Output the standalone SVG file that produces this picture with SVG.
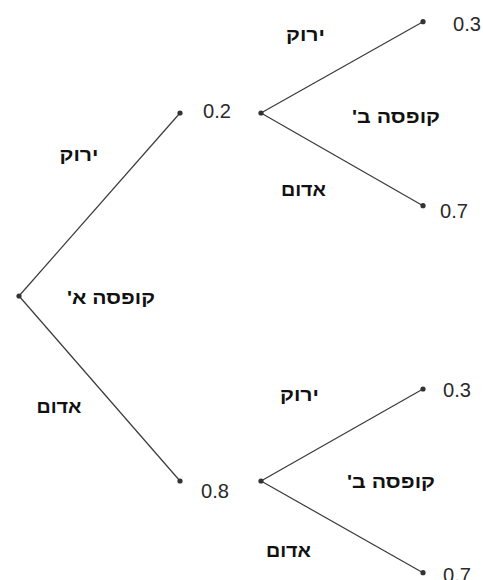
<svg xmlns="http://www.w3.org/2000/svg" width="483" height="580" viewBox="0 0 483 580">
<style>
.edge{stroke:#3a3a3a;stroke-width:1.2;fill:none}
.dot{fill:#333}
.num{font-family:"Liberation Sans",Arial,sans-serif;font-size:21px;fill:#2a2a2a}
.heb{font-family:"Liberation Sans",Arial,sans-serif;font-size:18.5px;font-weight:bold;fill:#111;text-anchor:middle;direction:rtl}
</style>
<rect width="483" height="580" fill="#fff"/>
<g id="connectors">
<line class="edge" x1="19" y1="296" x2="180" y2="113"/>
<line class="edge" x1="19" y1="296" x2="180" y2="481"/>
<line class="edge" x1="261" y1="113" x2="423" y2="21.7"/>
<line class="edge" x1="261" y1="113" x2="423" y2="205.7"/>
<line class="edge" x1="261" y1="481" x2="423" y2="389"/>
<line class="edge" x1="261" y1="481" x2="423" y2="572.7"/>
</g>
<g id="edge-labels">
<text class="heb" x="79" y="161" textLength="39" lengthAdjust="spacingAndGlyphs">ירוק</text>
<text class="heb" x="111" y="304" textLength="88" lengthAdjust="spacingAndGlyphs">קופסה א'</text>
<text class="heb" x="59" y="413" textLength="45" lengthAdjust="spacingAndGlyphs">אדום</text>
<text class="heb" x="305.5" y="41" textLength="39" lengthAdjust="spacingAndGlyphs">ירוק</text>
<text class="heb" x="396" y="123" textLength="88" lengthAdjust="spacingAndGlyphs">קופסה ב'</text>
<text class="heb" x="303.5" y="196" textLength="45" lengthAdjust="spacingAndGlyphs">אדום</text>
<text class="heb" x="299.5" y="401" textLength="39" lengthAdjust="spacingAndGlyphs">ירוק</text>
<text class="heb" x="391" y="488" textLength="88" lengthAdjust="spacingAndGlyphs">קופסה ב'</text>
<text class="heb" x="288.5" y="557" textLength="45" lengthAdjust="spacingAndGlyphs">אדום</text>
</g>
<g id="root"><circle class="dot" cx="19" cy="296" r="2.6"/></g>
<g id="a-green"><circle class="dot" cx="180" cy="113" r="2.6"/><text class="num" x="203" y="118" textLength="28" lengthAdjust="spacingAndGlyphs">0.2</text></g>
<g id="b-start-top"><circle class="dot" cx="261" cy="113" r="2.6"/></g>
<g id="top-green"><circle class="dot" cx="423" cy="21.7" r="2.6"/><text class="num" x="453" y="31" textLength="28" lengthAdjust="spacingAndGlyphs">0.3</text></g>
<g id="top-red"><circle class="dot" cx="423" cy="205.7" r="2.6"/><text class="num" x="440" y="218" textLength="28" lengthAdjust="spacingAndGlyphs">0.7</text></g>
<g id="a-red"><circle class="dot" cx="180" cy="481" r="2.6"/><text class="num" x="201" y="498" textLength="28" lengthAdjust="spacingAndGlyphs">0.8</text></g>
<g id="b-start-bottom"><circle class="dot" cx="261" cy="481" r="2.6"/></g>
<g id="bottom-green"><circle class="dot" cx="423" cy="389" r="2.6"/><text class="num" x="443" y="397" textLength="28" lengthAdjust="spacingAndGlyphs">0.3</text></g>
<g id="bottom-red"><circle class="dot" cx="423" cy="572.7" r="2.6"/><text class="num" x="443" y="582" textLength="28" lengthAdjust="spacingAndGlyphs">0.7</text></g>
</svg>
